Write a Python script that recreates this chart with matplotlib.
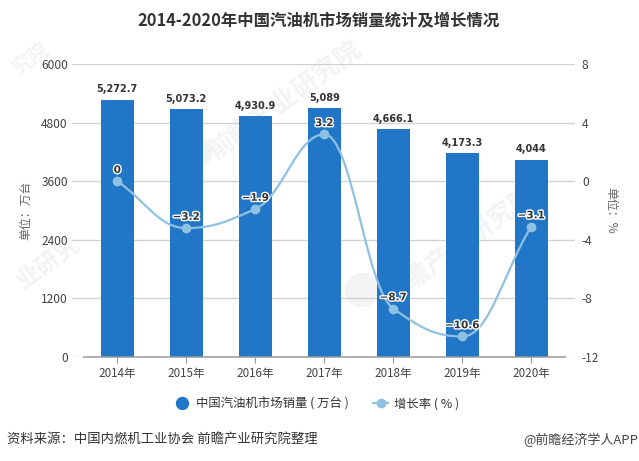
import matplotlib
matplotlib.use("Agg")
import matplotlib.pyplot as plt
from matplotlib.lines import Line2D
from matplotlib.patches import PathPatch, Circle
from matplotlib.path import Path
from matplotlib.transforms import IdentityTransform
import matplotlib.patheffects as pe

plt.rcParams['font.family'] = ['Noto Sans CJK SC', 'DejaVu Sans']

years = ['2014年', '2015年', '2016年', '2017年', '2018年', '2019年', '2020年']
sales = [5272.7, 5073.2, 4930.9, 5089, 4666.1, 4173.3, 4044]
sales_labels = ['5,272.7', '5,073.2', '4,930.9', '5,089', '4,666.1', '4,173.3', '4,044']
growth = [0, -3.2, -1.9, 3.2, -8.7, -10.6, -3.1]
growth_labels = ['0', '−3.2', '−1.9', '3.2', '−8.7', '−10.6', '−3.1']
left_ticks = [0, 1200, 2400, 3600, 4800, 6000]
right_ticks = [-12, -8, -4, 0, 4, 8]
title = '2014-2020年中国汽油机市场销量统计及增长情况'
source = '资料来源：中国内燃机工业协会 前瞻产业研究院整理'
credit = '@前瞻经济学人APP'
watermarks = ['前瞻产业研究院', '前瞻产业研究院', '业研究', '究院']

W, H = 639, 461
BAR, LINE = '#2176C7', '#8FC1E3'
WM = '#F1F3F5'
fig = plt.figure(figsize=(W / 100, H / 100), dpi=100, facecolor='white')

# faint watermarks behind the plot
for t, (x, y, s) in zip(watermarks, [(285, 100, 26), (460, 245, 26), (48, 262, 24), (30, 58, 20)]):
    fig.text(x / W, 1 - y / H, t, fontsize=s * 0.72, color=WM, rotation=36,
             ha='center', va='center', fontweight='bold', zorder=0)
for cx, cy in [(195, 152), (362, 290)]:
    fig.add_artist(Circle((cx, H - cy), 17, transform=IdentityTransform(), color=WM, lw=0, zorder=0))

ax = fig.add_axes([72 / W, 1 - 357 / H, (575 - 72) / W, (357 - 64) / H], zorder=2)
ax.patch.set_alpha(0)
xlim = ((72 - 117.3) / 69, (575 - 117.3) / 69)
x = list(range(len(years)))
ax.set_xlim(*xlim)
ax.set_ylim(0, 6000)
ax.set_yticks(left_ticks)
ax.set_xticks(x, years)
ax.grid(axis='y', color='#D2D2D2', lw=1)
ax.set_axisbelow(True)
for s in ax.spines.values():
    s.set_visible(False)
ax.tick_params(axis='y', length=0, pad=3, labelsize=8.6, labelcolor='#444444')
ax.tick_params(axis='x', length=4, width=0.8, color='#9A9A9A', pad=3, labelsize=8.4, labelcolor='#444444')
bars = ax.bar(x, sales, width=0.478, color=BAR, zorder=2)
ax.plot([-0.5, 6.5], [0, 0], color='#9A9A9A', lw=1.1, zorder=3, clip_on=False, solid_capstyle='butt')
for xi, v, t in zip(x, sales, sales_labels):
    ax.annotate(t, (xi, v), xytext=(0, 4), textcoords='offset points', ha='center', va='bottom',
                fontsize=7, fontweight='bold', color='#333333', family='DejaVu Sans', zorder=6)
ax.set_ylabel('单位：万台', fontsize=8.6, color='#666666', labelpad=0)
ax.yaxis.set_label_coords((32 - 72) / 503, 0.5)

ax2 = ax.twinx()
ax2.set_zorder(3)
ax2.set_ylim(-12, 8)
ax2.set_yticks(right_ticks)
ax2.set_yticklabels([str(t) for t in right_ticks])
for s in ax2.spines.values():
    s.set_visible(False)
ax2.tick_params(axis='y', length=0, pad=5, labelsize=8.6, labelcolor='#444444')
ax2.set_ylabel('单位：%', fontsize=8.6, color='#666666', rotation=270, labelpad=0)
ax2.yaxis.set_label_coords((617 - 72) / 503, 0.5)

# smooth line through the points, flat at local extrema
n = len(growth)
tang = [0.0] * n
for i in range(1, n - 1):
    a, b = growth[i] - growth[i - 1], growth[i + 1] - growth[i]
    tang[i] = 0.0 if a * b <= 0 else 2 * a * b / (a + b)
tang[0] = growth[1] - growth[0]
tang[-1] = growth[-1] - growth[-2]
verts, codes = [(0, growth[0])], [Path.MOVETO]
for i in range(n - 1):
    verts += [(i + 0.4, growth[i] + 0.4 * tang[i]), (i + 0.6, growth[i + 1] - 0.4 * tang[i + 1]),
              (i + 1, growth[i + 1])]
    codes += [Path.CURVE4] * 3
ax2.add_patch(PathPatch(Path(verts, codes), fc='none', ec=LINE, lw=1.6, zorder=4))
ax2.plot(x, growth, ls='none', marker='o', ms=6, color=LINE, zorder=5)
for xi, v, t in zip(x, growth, growth_labels):
    ax2.annotate(t, (xi, v), xytext=(0, 4.5), textcoords='offset points', ha='center', va='bottom',
                 fontsize=7.5, fontweight='bold', color='#333333', family='DejaVu Sans', zorder=6,
                 path_effects=[pe.withStroke(linewidth=2, foreground='white')])

handles = [Line2D([], [], ls='none', marker='o', ms=8.6, color=BAR),
           Line2D([], [], color=LINE, lw=1.6, marker='o', ms=6)]
fig.legend(handles, ['中国汽油机市场销量 ( 万台 )', '增长率 ( % )'], ncol=2, frameon=False,
           loc='center', bbox_to_anchor=(317 / W, 1 - 404 / H), labelcolor='#333333',
           handlelength=1.2, handletextpad=0.5, columnspacing=2.0,
           prop={'weight': 'medium', 'size': 8.9})

fig.text(319 / W, 1 - 21 / H, title, ha='center', va='center', fontsize=11.8, fontweight='bold', color='#333333')
fig.text(7 / W, 1 - 440 / H, source, ha='left', va='center', fontsize=9.6, color='#333333')
fig.text(638 / W, 1 - 440 / H, credit, ha='right', va='center', fontsize=9.4, color='#444444')
fig.savefig('out.png', dpi=100)
